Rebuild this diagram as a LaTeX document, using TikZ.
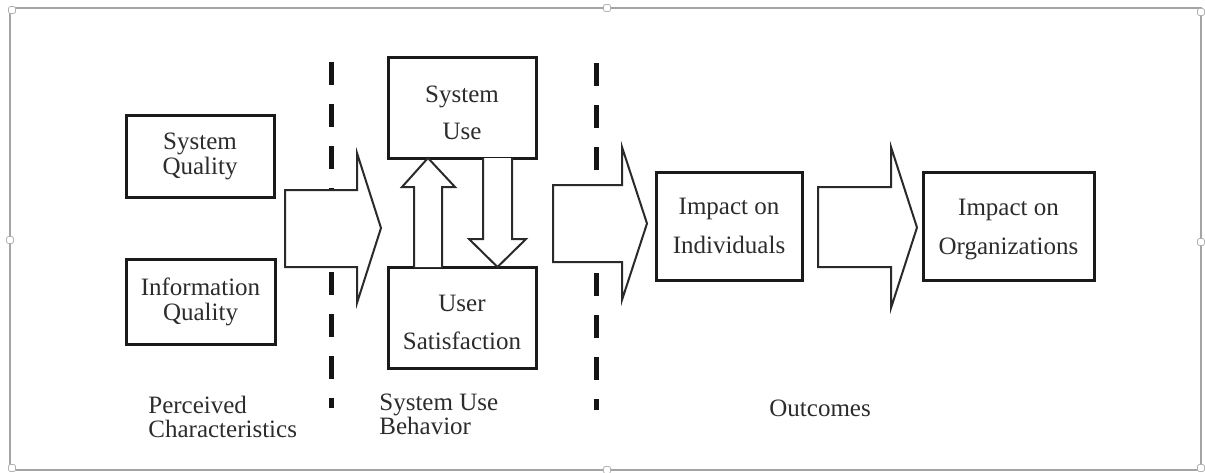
\documentclass[tikz,border=0pt]{standalone}
\usepackage{fontspec}
\setmainfont{Liberation Serif}
\usetikzlibrary{calc}
\definecolor{txtcol}{HTML}{2C2C2C}
\definecolor{boxcol}{HTML}{1A1A1A}
\definecolor{arrcol}{HTML}{2A2A2A}
\definecolor{framecol}{HTML}{A4A4A4}
% sets the first line's height so two-line labels sit a little lower
\newcommand{\liftline}[1]{\rule{0pt}{#1}}
\begin{document}
\begin{tikzpicture}[x=0.5pt,y=-0.5pt,
  box/.style={draw=boxcol, line width=1.5pt, fill=white, inner sep=0pt,
    align=center, text=txtcol, font=\fontsize{12.5}{12.5}\selectfont},
  blockarrow/.style={draw=arrcol, line width=1pt, fill=white, line join=miter},
  divider/.style={draw=black!92, line width=2.5pt, dash pattern=on 11.5pt off 9.5pt},
  caption/.style={text=txtcol, font=\fontsize{12.5}{12}\selectfont,
    inner sep=0pt, align=left},
  handle/.style={draw=black!30, fill=white, line width=0.4pt,
    rounded corners=1pt, minimum size=3.5pt, inner sep=0pt}
]
\useasboundingbox (0,0) rectangle (1205,472);

% outer frame with its handles
\draw[framecol, line width=1pt] (10,8) rectangle (1201,470);
\node[handle] (htl) at (12,10) {};
\node[handle] (htm) at (607,8) {};
\node[handle] (htr) at (1201,12) {};
\node[handle] (hml) at (10,240) {};
\node[handle] (hmr) at (1201,242) {};
\node[handle] (hbl) at (12,468) {};
\node[handle] (hbm) at (607,470) {};
\node[handle] (hbr) at (1201,468) {};

% dashed dividers between the three stages
\draw[divider] (331,62) -- (331,408);
\draw[divider] (596,63) -- (596,410);

% boxes
\node[box, minimum width=74pt, minimum height=41pt] (sq) at (200,156) {System\\Quality};
\node[box, minimum width=74.5pt, minimum height=42.5pt] (iq) at (200.5,301.5) {Information\\Quality};
\node[box, minimum width=74pt, minimum height=50.5pt] (su) at (462,107.5) {\liftline{13.5pt}System\\[6pt]Use};
\node[box, minimum width=74pt, minimum height=50.5pt] (us) at (462,317.5) {\liftline{13.5pt}User\\[6.5pt]Satisfaction};
\node[box, minimum width=73pt, minimum height=54pt] (ii) at (729,226) {Impact on\\[7pt]Individuals};
\node[box, minimum width=85.5pt, minimum height=54pt] (io) at (1008.5,226) {\liftline{11.5pt}Impact on\\[7pt]Organizations};

% block arrows between the stages
\draw[blockarrow] (285,190) -- (357,190) -- (357,153) -- (381,228)
  -- (357,303) -- (357,267) -- (285,267) -- cycle;
\draw[blockarrow] (553,185) -- (622,185) -- (622,147) -- (647,223.5)
  -- (622,300) -- (622,262) -- (553,262) -- cycle;
\draw[blockarrow] (818,187) -- (891,187) -- (891,147) -- (917,227.5)
  -- (891,308) -- (891,267) -- (818,267) -- cycle;

% feedback arrows between use and satisfaction
\draw[blockarrow] (414,267) -- (414,187) -- (402,187) -- (428,158)
  -- (455,187) -- (442,187) -- (442,267);
\draw[blockarrow] (483,158) -- (483,239) -- (469,239) -- (497.5,267)
  -- (526,239) -- (512,239) -- (512,158);

% stage captions
\node[caption, anchor=north west] (cap1) at (148,396) {Perceived\\Characteristics};
\node[caption, anchor=north west] (cap2) at (379,394) {System Use\\Behavior};
\node[caption, anchor=base west] (cap3) at (769,416) {Outcomes};
\end{tikzpicture}
\end{document}
